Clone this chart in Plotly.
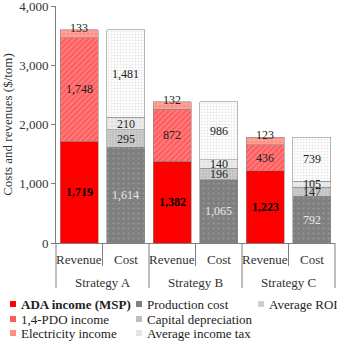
import plotly.graph_objects as go

# Strategies and bar types
strategies = ["Strategy A", "Strategy B", "Strategy C"]
kinds = ["Revenue", "Cost"]

# Revenue components ($/ton)
ada_income = [1719, 1382, 1223]
pdo_income = [1748, 872, 436]
elec_income = [133, 132, 123]

# Cost components ($/ton)
production_cost = [1614, 1065, 792]
capital_depreciation = [295, 196, 147]
income_tax = [210, 140, 105]
average_roi = [1481, 986, 739]

y_ticks = [0, 1000, 2000, 3000, 4000]

FONT = "Liberation Serif"

rev_x = [strategies, ["Revenue"] * 3]
cost_x = [strategies, ["Cost"] * 3]

# Figure geometry (pixels)
W, H = 337, 344
L, R, T, B = 56, 2, 6, 101
PW, PH = W - L - R, H - T - B

fig = go.Figure()

outline = dict(color="#8C8C8C", width=0.6)

# (name, x, values, colour, pattern, legend column, legend row)
series = [
    ("<b>ADA income (MSP)</b>", rev_x, ada_income, "#FF0000", None, 0, 0),
    ("1,4-PDO income", rev_x, pdo_income, "#FF5C5C",
     dict(shape="/", fgcolor="#FFA8A8", size=4, solidity=0.4, fillmode="overlay"), 0, 1),
    ("Electricity income", rev_x, elec_income, "#FF8F84",
     dict(shape="+", fgcolor="#FFD8D4", size=4, solidity=0.3, fillmode="overlay"), 0, 2),
    ("Production cost", cost_x, production_cost, "#7F7F7F",
     dict(shape=".", fgcolor="#B0B0B0", size=5, solidity=0.15, fillmode="overlay"), 1, 0),
    ("Capital depreciation", cost_x, capital_depreciation, "#BDBDBD",
     dict(shape=".", fgcolor="#E6E6E6", size=3, solidity=0.45, fillmode="overlay"), 1, 1),
    ("Average income tax", cost_x, income_tax, "#E4E4E4",
     dict(shape=".", fgcolor="#FAFAFA", size=4, solidity=0.3, fillmode="overlay"), 1, 2),
    ("Average ROI", cost_x, average_roi, "#FFFFFF",
     dict(shape="+", fgcolor="#C8C8C8", size=3, solidity=0.28, fillmode="overlay"), 2, 0),
]

legend_swatch = {"#FFFFFF": "#D0D0D0"}

for name, x, y, color, pattern, _, _ in series:
    fig.add_trace(go.Bar(
        name=name, x=x, y=y,
        marker=dict(color=color, line=outline, pattern=pattern),
        showlegend=False,
        hoverinfo="x+y+name",
    ))

# Segment value labels (category positions on the multicategory axis are 0..5)
annotations = []


def label_stack(offset, series_list, styles):
    for i in range(len(strategies)):
        base = 0
        for vals, (color, bold, shift) in zip(series_list, styles):
            v = vals[i]
            txt = f"{v:,}"
            if bold:
                txt = f"<b>{txt}</b>"
            annotations.append(dict(
                x=2 * i + offset, y=base + v / 2, xref="x", yref="y",
                text=txt, showarrow=False, yshift=shift,
                font=dict(family=FONT, size=12, color=color),
            ))
            base += v


label_stack(0, [ada_income, pdo_income, elec_income],
            [("#000000", True, 0), ("#222222", False, 0), ("#222222", False, 6)])
label_stack(1, [production_cost, capital_depreciation, income_tax, average_roi],
            [("#E8E8E8", False, 0), ("#222222", False, 0), ("#222222", False, 0), ("#222222", False, 0)])

shapes = []


def py(pix):
    """Paper y fraction for a pixel row measured from the top of the page."""
    return (T + PH - pix) / PH


def px(pix):
    return (pix - L) / PW


# Two-level category axis: labels and separators below the plot
axis_y = T + PH
n_slots = len(strategies) * len(kinds)
for k in range(n_slots + 1):
    long_line = k % len(kinds) == 0
    shapes.append(dict(
        type="line", xref="paper", yref="paper",
        x0=k / n_slots, x1=k / n_slots, y0=0, y1=py(axis_y + (45 if long_line else 23)),
        line=dict(color="#7F7F7F", width=1),
    ))
for i, s in enumerate(strategies):
    for j, kind in enumerate(kinds):
        annotations.append(dict(
            x=2 * i + j, xref="x", y=py(axis_y + 16), yref="paper",
            text=kind, showarrow=False, yanchor="middle",
            font=dict(family=FONT, size=13, color="#333333"),
        ))
    annotations.append(dict(
        x=2 * i + 0.5, xref="x", y=py(axis_y + 39), yref="paper",
        text=s, showarrow=False, yanchor="middle",
        font=dict(family=FONT, size=13, color="#333333"),
    ))

# Legend: three columns of small swatches with labels
col_x = [10, 136, 258]
row_y = [304, 319, 333]
sw = 6
for name, _, _, color, pattern, col, row in series:
    x0 = col_x[col]
    yc = row_y[row]
    shapes.append(dict(
        type="rect", xref="paper", yref="paper",
        x0=px(x0), x1=px(x0 + sw),
        y0=py(yc + sw / 2), y1=py(yc - sw / 2),
        fillcolor=legend_swatch.get(color, color), line=dict(width=0),
    ))
    annotations.append(dict(
        xref="paper", yref="paper", xanchor="left", yanchor="middle",
        x=px(x0 + sw + 3), y=py(yc),
        text=name, showarrow=False,
        font=dict(family=FONT, size=13, color="#222222"),
    ))

fig.update_layout(
    barmode="stack",
    bargap=0.18,
    width=W, height=H,
    margin=dict(l=L, r=R, t=T, b=B),
    paper_bgcolor="white", plot_bgcolor="white",
    font=dict(family=FONT, size=12, color="#333333"),
    annotations=annotations,
    shapes=shapes,
    showlegend=False,
    yaxis=dict(
        range=[0, 4000], tickvals=y_ticks, tickformat=",",
        showgrid=False, showline=True, linecolor="#7F7F7F", linewidth=1,
        ticks="outside", ticklen=4, tickcolor="#7F7F7F",
        ticklabeloverflow="allow",
        tickfont=dict(family=FONT, size=13, color="#333333"),
        title=dict(text="Costs and revenues ($/tom)", standoff=6,
                   font=dict(family=FONT, size=13, color="#333333")),
        zeroline=False, automargin=False,
    ),
    xaxis=dict(
        type="multicategory", range=[-0.5, n_slots - 0.5],
        showline=True, linecolor="#7F7F7F", linewidth=1,
        ticks="", showticklabels=False, showdividers=False,
        automargin=False,
    ),
)

fig.write_html("out.html")
